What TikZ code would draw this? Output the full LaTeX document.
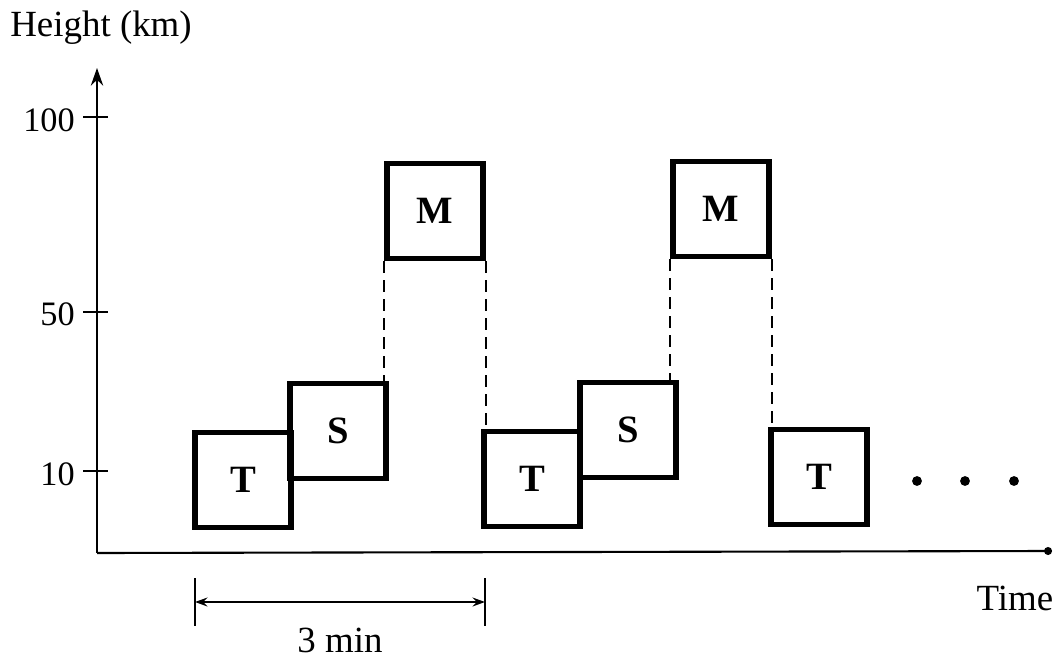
\documentclass[tikz,border=0pt]{standalone}
\usepackage{fontspec}
\setmainfont{Liberation Serif}
\usetikzlibrary{arrows.meta}
\begin{document}
\begin{tikzpicture}[x=0.02cm,y=-0.02cm,
  box/.style={draw,line width=3.2pt,rectangle,minimum width=1.92cm,minimum height=1.9cm,inner sep=0pt,font=\fontsize{22}{24}\selectfont\bfseries},
  axis/.style={line width=1.2pt},
  tick/.style={line width=1.2pt},
  lab/.style={font=\fontsize{21}{24}\selectfont,inner sep=0pt},
  num/.style={font=\fontsize{19.5}{22}\selectfont,inner sep=0pt},
  dashlink/.style={line width=1.3pt,dash pattern=on 6.8pt off 4pt}]
\useasboundingbox (0,0) rectangle (1056,659);
% axes
\coordinate (O) at (97,553);
\coordinate (Ytop) at (97,68);
\coordinate (Xend) at (1052,551);
\draw[axis,-{Stealth[length=10pt,width=7pt]}] (O) -- (Ytop);
\draw[axis,-{Circle[length=4.5pt]}] (O) -- (Xend);
% ticks
\coordinate (t100a) at (83,117); \coordinate (t100b) at (108,117);
\coordinate (t50a) at (83,312); \coordinate (t50b) at (108,312);
\coordinate (t10a) at (83,471); \coordinate (t10b) at (108,471);
\draw[tick] (t100a) -- (t100b);
\draw[tick] (t50a) -- (t50b);
\draw[tick] (t10a) -- (t10b);
\node[num,anchor=east] (l100) at (75,120) {100};
\node[num,anchor=east] (l50) at (75,314) {50};
\node[num,anchor=east] (l10) at (75,474) {10};
\node[lab,anchor=west] (ylab) at (10,28) {Height (km)};
\node[lab] (xlab) at (1015,598) {Time};
% boxes
\node[box] (T1) at (243,480) {T};
\node[box] (S1) at (338,431) {S};
\node[box] (M1) at (435,211) {M};
\node[box] (T2) at (532,479) {T};
\node[box] (S2) at (628,430) {S};
\node[box] (M2) at (721,209) {M};
\node[box] (T3) at (819,477) {T};
% dashed links
\draw[dashlink] (M1.south west) -- (M1.south west |- S1.north);
\draw[dashlink] (M1.south east) -- (M1.south east |- T2.north);
\draw[dashlink] (M2.south west) -- (M2.south west |- S2.north);
\draw[dashlink] (M2.south east) -- (M2.south east |- T3.north);
% dots
\fill (917,481) circle (2.8pt);
\fill (965,481) circle (2.8pt);
\fill (1014,481) circle (2.8pt);
% 3 min dimension
\coordinate (d1a) at (195,578); \coordinate (d1b) at (195,626);
\coordinate (d2a) at (485,578); \coordinate (d2b) at (485,626);
\coordinate (da) at (195,602); \coordinate (db) at (485,602);
\draw[line width=1.3pt] (d1a) -- (d1b);
\draw[line width=1.3pt] (d2a) -- (d2b);
\draw[line width=1.3pt,{Stealth[length=7pt,width=5pt]}-{Stealth[length=7pt,width=5pt]}] (da) -- (db);
\node[lab] (dlab) at (340,640) {3 min};
\end{tikzpicture}
\end{document}
